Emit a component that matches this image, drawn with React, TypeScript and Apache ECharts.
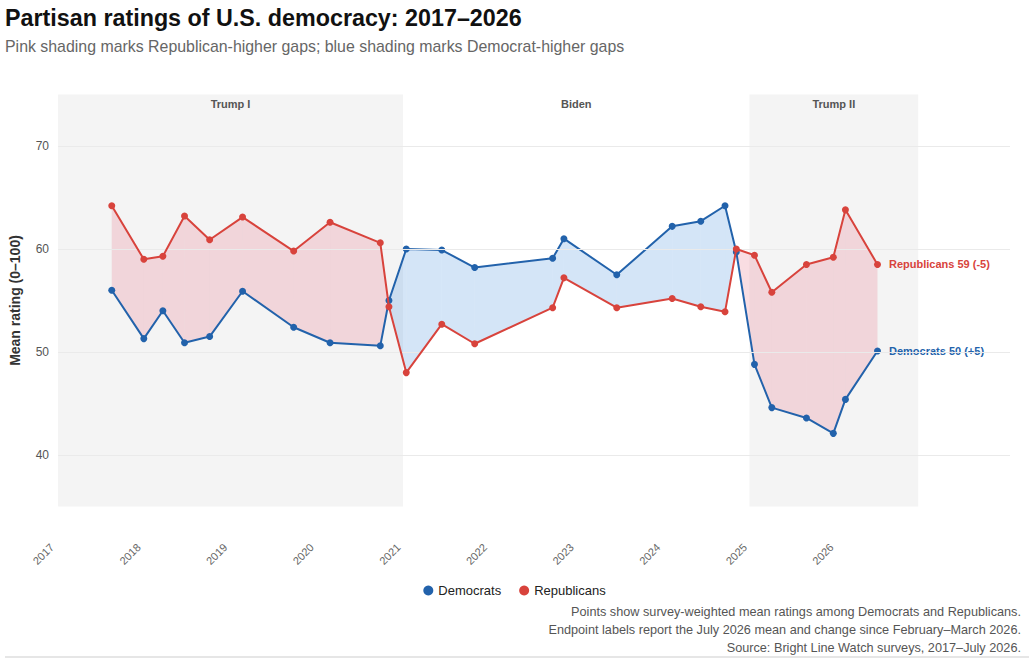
import React, { useRef, useEffect } from "react";
import * as echarts from "echarts";

// survey waves as decimal years
const SURVEY_DATES = [
  2017.69, 2018.06, 2018.28, 2018.53, 2018.82, 2019.2, 2019.79, 2020.21, 2020.79,
  2020.89, 2021.09, 2021.5, 2021.88, 2022.78, 2022.91, 2023.52, 2024.16, 2024.49,
  2024.77, 2024.9, 2025.11, 2025.31, 2025.71, 2026.02, 2026.16, 2026.53,
];
const DEMOCRATS = [
  56.0, 51.3, 54.0, 50.9, 51.5, 55.9, 52.4, 50.9, 50.6, 55.0, 60.0, 59.9, 58.2,
  59.1, 61.0, 57.5, 62.2, 62.7, 64.2, 59.7, 48.8, 44.6, 43.6, 42.1, 45.4, 50.1,
];
const REPUBLICANS = [
  64.2, 59.0, 59.3, 63.2, 60.9, 63.1, 59.8, 62.6, 60.6, 54.4, 48.0, 52.7, 50.8,
  54.3, 57.2, 54.3, 55.2, 54.4, 53.9, 60.0, 59.4, 55.8, 58.5, 59.2, 63.8, 58.5,
];

const YEAR_LABELS = [2017, 2018, 2019, 2020, 2021, 2022, 2023, 2024, 2025, 2026];
const Y_LABELS = [40, 50, 60, 70];

const TERM_NAMES = ["Trump I", "Biden", "Trump II"];
const TERM_STARTS = [2017.07, 2021.053, 2025.052];
const TERM_ENDS = [2021.053, 2025.052, 2027.0];

const FOOTNOTES = [
  "Points show survey-weighted mean ratings among Democrats and Republicans.",
  "Endpoint labels report the July 2026 mean and change since February–March 2026.",
  "Source: Bright Line Watch surveys, 2017–July 2026.",
];

const X_MIN = 2017;
const X_MAX = 2028.06;
const Y_MIN = 32;
const Y_MAX = 78;

const FONT = "'Liberation Sans', Arial, sans-serif";
const DEM_COLOR = "#2262ab";
const REP_COLOR = "#d8433c";
const PINK = "rgba(230,120,140,0.25)";
const BLUE = "rgba(100,160,225,0.28)";

const endLabel = (name: string, values: number[]) => {
  const last = values[values.length - 1];
  const diff = Math.round(last - values[values.length - 2]);
  return `${name} ${Math.round(last)} (${diff > 0 ? "+" : ""}${diff})`;
};

const lineData = (values: number[], name: string, color: string) =>
  values.map((v, i) =>
    i === values.length - 1
      ? {
          value: [SURVEY_DATES[i], v],
          label: {
            show: true,
            position: "right",
            distance: 8,
            formatter: endLabel(name, values),
            color,
            fontSize: 11,
            fontWeight: "bold",
          },
        }
      : [SURVEY_DATES[i], v]
  );

// shaded gap between the two lines, split where they cross
const renderGap = (params: any, api: any) => {
  const i = params.dataIndex;
  const x0 = SURVEY_DATES[i];
  const x1 = SURVEY_DATES[i + 1];
  const d0 = DEMOCRATS[i];
  const d1 = DEMOCRATS[i + 1];
  const r0 = REPUBLICANS[i];
  const r1 = REPUBLICANS[i + 1];
  const g0 = r0 - d0;
  const g1 = r1 - d1;
  const poly = (pts: number[][], g: number) => ({
    type: "polygon",
    silent: true,
    shape: { points: pts.map((p) => api.coord(p)) },
    style: { fill: g >= 0 ? PINK : BLUE },
  });
  if (g0 * g1 >= 0) {
    return {
      type: "group",
      children: [poly([[x0, d0], [x1, d1], [x1, r1], [x0, r0]], g0 + g1)],
    };
  }
  const t = g0 / (g0 - g1);
  const cx = x0 + t * (x1 - x0);
  const cy = d0 + t * (d1 - d0);
  return {
    type: "group",
    children: [
      poly([[x0, d0], [cx, cy], [x0, r0]], g0),
      poly([[cx, cy], [x1, d1], [x1, r1]], g1),
    ],
  };
};

const App: React.FC = () => {
  const ref = useRef<HTMLDivElement>(null);

  useEffect(() => {
    if (!ref.current) return;
    const chart = echarts.init(ref.current, undefined, { renderer: "svg" });

    chart.setOption({
      animation: false,
      textStyle: { fontFamily: FONT },
      grid: { left: 50.5, right: 19, top: 63.6, bottom: 127.6 },
      legend: {
        data: ["Democrats", "Republicans"],
        left: "center",
        top: 579,
        icon: "circle",
        itemWidth: 10,
        itemHeight: 10,
        itemGap: 18,
        textStyle: { fontSize: 13, color: "#222" },
      },
      xAxis: {
        type: "value",
        min: X_MIN,
        max: X_MAX,
        interval: 1,
        axisLine: { show: false },
        axisTick: { show: false },
        splitLine: { show: false },
        axisLabel: {
          rotate: 45,
          fontSize: 11,
          color: "#666",
          margin: 8,
          formatter: (v: number) => (YEAR_LABELS.includes(v) ? String(v) : ""),
        },
      },
      yAxis: {
        type: "value",
        min: Y_MIN,
        max: Y_MAX,
        interval: 2,
        name: "Mean rating (0–100)",
        nameLocation: "middle",
        nameGap: 30,
        nameTextStyle: { fontSize: 14, fontWeight: "bold", color: "#333" },
        axisLine: { show: false },
        axisTick: { show: false },
        splitLine: { show: false },
        axisLabel: {
          fontSize: 12,
          color: "#555",
          margin: 3,
          formatter: (v: number) => (Y_LABELS.includes(v) ? String(v) : ""),
        },
      },
      series: [
        {
          type: "line",
          data: [],
          silent: true,
          z: 1,
          markArea: {
            silent: true,
            label: {
              show: true,
              position: "insideTop",
              distance: 4,
              fontSize: 11,
              fontWeight: "bold",
              color: "#555",
            },
            data: TERM_NAMES.map((name, i) => [
              {
                name,
                xAxis: TERM_STARTS[i],
                yAxis: 35,
                itemStyle: { color: i % 2 === 0 ? "#f4f4f4" : "rgba(255,255,255,0)" },
              },
              { xAxis: TERM_ENDS[i], yAxis: 75 },
            ]),
          },
        },
        {
          type: "line",
          data: [],
          silent: true,
          z: 2,
          markLine: {
            silent: true,
            symbol: ["none", "none"],
            label: { show: false },
            lineStyle: { color: "#eaeaea", width: 1, type: "solid" },
            data: Y_LABELS.map((v) => [
              { coord: [TERM_STARTS[0], v] },
              { coord: [X_MAX, v] },
            ]),
          },
        },
        {
          type: "custom",
          silent: true,
          z: 3,
          renderItem: renderGap,
          data: SURVEY_DATES.slice(0, -1).map((x, i) => [x, DEMOCRATS[i]]),
          encode: { x: 0, y: 1 },
        },
        {
          name: "Democrats",
          type: "line",
          z: 4,
          symbol: "circle",
          symbolSize: 7,
          color: DEM_COLOR,
          lineStyle: { width: 2, color: DEM_COLOR },
          itemStyle: { color: DEM_COLOR },
          data: lineData(DEMOCRATS, "Democrats", DEM_COLOR),
        },
        {
          name: "Republicans",
          type: "line",
          z: 5,
          symbol: "circle",
          symbolSize: 7,
          color: REP_COLOR,
          lineStyle: { width: 2, color: REP_COLOR },
          itemStyle: { color: REP_COLOR },
          data: lineData(REPUBLICANS, "Republicans", REP_COLOR),
        },
      ],
      graphic: [
        {
          type: "text",
          x: 5,
          y: 18,
          style: {
            text: "Partisan ratings of U.S. democracy: 2017–2026",
            font: `bold 23.3px ${FONT}`,
            fill: "#111",
            verticalAlign: "middle",
          },
        },
        {
          type: "text",
          x: 5,
          y: 46,
          style: {
            text: "Pink shading marks Republican-higher gaps; blue shading marks Democrat-higher gaps",
            font: `15.9px ${FONT}`,
            fill: "#666",
            verticalAlign: "middle",
          },
        },
        ...FOOTNOTES.map((line, i) => ({
          type: "text",
          x: 1021,
          y: 612 + i * 18,
          style: {
            text: line,
            font: `12.7px ${FONT}`,
            fill: "#555",
            align: "right",
            verticalAlign: "middle",
          },
        })),
        {
          type: "line",
          shape: { x1: 5, y1: 657, x2: 1029, y2: 657 },
          style: { stroke: "#e6e6e6", lineWidth: 2 },
        },
      ],
    });

    return () => chart.dispose();
  }, []);

  return (
    <div
      ref={ref}
      style={{ position: "absolute", left: 0, top: 0, width: 1029, height: 665 }}
    />
  );
};

export default App;
